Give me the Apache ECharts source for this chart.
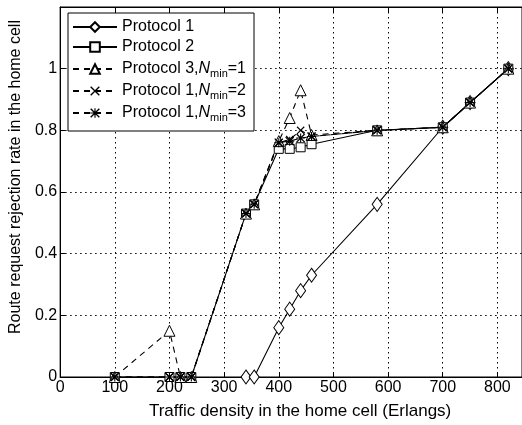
<!DOCTYPE html>
<html>
<head>
<meta charset="utf-8">
<script src="https://cdn.jsdelivr.net/npm/echarts@6/dist/echarts.min.js"></script>
<style>html,body{margin:0;padding:0;background:#fff;}#c{width:522px;height:425px;}</style>
</head>
<body>
<div id="c"></div>
<script>
// Data
const seriesNames = ['Protocol 1', 'Protocol 2', 'Protocol 3,N=1', 'Protocol 1,N=2', 'Protocol 1,N=3'];
const xP1 = [340, 355, 400, 420, 440, 460, 580, 700, 750, 820];
const yP1 = [0, 0, 0.16, 0.22, 0.28, 0.33, 0.56, 0.81, 0.89, 1.0];
const xAll = [100, 200, 220, 240, 340, 355, 400, 420, 440, 460, 580, 700, 750, 820];
const yP2 = [0, 0, 0, 0, 0.53, 0.56, 0.74, 0.74, 0.745, 0.755, 0.80, 0.81, 0.89, 1.0];
const yP3 = [0, 0.15, 0, 0, 0.53, 0.56, 0.765, 0.84, 0.93, 0.785, 0.80, 0.81, 0.89, 1.0];
const yN2 = [0, 0, 0, 0, 0.53, 0.56, 0.76, 0.77, 0.80, 0.78, 0.80, 0.81, 0.89, 1.0];
const yN3 = [0, 0, 0, 0, 0.53, 0.56, 0.76, 0.765, 0.775, 0.78, 0.80, 0.81, 0.89, 1.0];
const xTicks = [0, 100, 200, 300, 400, 500, 600, 700, 800];
const yTicks = [0, 0.2, 0.4, 0.6, 0.8, 1];

const pairs = (xs, ys) => xs.map((x, i) => [x, ys[i]]);
const FONT = 'Liberation Sans';
const crossPath = 'path://M0,1 L1,0 L10,9 L9,10 Z M9,0 L10,1 L1,10 L0,9 Z';
const starPath = 'path://M0,1 L1,0 L10,9 L9,10 Z M9,0 L10,1 L1,10 L0,9 Z M4.4,0 L5.6,0 L5.6,10 L4.4,10 Z M0,4.4 L10,4.4 L10,5.6 L0,5.6 Z';

const hollow = { color: '#fff', borderColor: '#000', borderWidth: 1 };
const filled = { color: '#000', borderWidth: 0 };

function mk(name, data, symbol, size, dashed, item) {
  return {
    name: name, type: 'line', data: data, symbol: symbol, symbolSize: size,
    showAllSymbol: true,
    lineStyle: { color: '#000', width: 1.1, type: dashed ? [6, 5] : 'solid' },
    itemStyle: item,
    emphasis: { disabled: true },
    animation: false, z: 3
  };
}

const chart = echarts.init(document.getElementById('c'), null, { renderer: 'canvas' });
chart.setOption({
  backgroundColor: '#fff',
  animation: false,
  textStyle: { fontFamily: FONT },
  grid: { left: 58, top: 7, right: 0, bottom: 48, show: true, borderColor: '#000', borderWidth: 1, backgroundColor: 'transparent' },
  legend: {
    orient: 'vertical', left: 68, top: 13,
    backgroundColor: '#fff', borderColor: '#000', borderWidth: 1,
    padding: [4, 8, 8, 4], itemGap: 0, itemWidth: 44, itemHeight: 12,
    data: seriesNames,
    formatter: function (n) {
      const m = n.match(/^(.*),N=(\d)$/);
      if (m) return m[1] + ',{n|N}{s|min}{t|=' + m[2] + '}';
      return n;
    },
    textStyle: {
      fontFamily: FONT, fontSize: 16, color: '#000', lineHeight: 20,
      rich: {
        n: { fontFamily: FONT, fontSize: 16, fontStyle: 'italic', color: '#000', lineHeight: 20 },
        s: { fontFamily: FONT, fontSize: 11, color: '#000', lineHeight: 10, padding: [11, 0, 0, 0], verticalAlign: 'bottom' },
        t: { fontFamily: FONT, fontSize: 16, color: '#000', lineHeight: 20 }
      }
    }
  },
  xAxis: [{
    type: 'value', min: 0, max: 845, interval: 100,
    name: 'Traffic density in the home cell (Erlangs)', nameLocation: 'middle', nameGap: 26,
    nameTextStyle: { fontFamily: FONT, fontSize: 17, color: '#000', padding: [0, 0, 0, 18] },
    axisLine: { show: true, lineStyle: { color: '#000' } },
    axisTick: { show: true, inside: true, length: 5, lineStyle: { color: '#000' } },
    axisLabel: { fontFamily: FONT, fontSize: 16, color: '#000', margin: 3, showMaxLabel: false,
      formatter: v => xTicks.indexOf(v) >= 0 ? String(v) : '' },
    splitLine: { show: true, lineStyle: { color: '#000', width: 1, type: [1.5, 3.5] } }
  }, {
    type: 'value', min: 0, max: 845, interval: 100, position: 'top',
    axisLine: { show: true, lineStyle: { color: '#000' } },
    axisTick: { show: true, inside: true, length: 5, lineStyle: { color: '#000' } },
    axisLabel: { show: false }, splitLine: { show: false }
  }],
  yAxis: {
    type: 'value', min: 0, max: 1.2, interval: 0.2,
    name: 'Route request rejection rate in the home cell', nameLocation: 'middle', nameGap: 36,
    nameTextStyle: { fontFamily: FONT, fontSize: 16, color: '#000', padding: [0, 0, 0, 30] },
    axisLine: { show: true, lineStyle: { color: '#000' } },
    axisTick: { show: true, inside: true, length: 5, lineStyle: { color: '#000' } },
    axisLabel: { fontFamily: FONT, fontSize: 16, color: '#000', margin: 3, showMaxLabel: false,
      formatter: v => { const t = yTicks.find(k => Math.abs(k - v) < 1e-6); return t === undefined ? '' : String(t); } },
    splitLine: { show: true, lineStyle: { color: '#000', width: 1, type: [1.5, 3.5] } }
  },
  series: [
    mk(seriesNames[0], pairs(xP1, yP1), 'diamond', [10, 14], false, hollow),
    mk(seriesNames[1], pairs(xAll, yP2), 'rect', 9, false, hollow),
    mk(seriesNames[2], pairs(xAll, yP3), 'triangle', 11, true, hollow),
    mk(seriesNames[3], pairs(xAll, yN2), crossPath, 8, true, filled),
    mk(seriesNames[4], pairs(xAll, yN3), starPath, 9, true, filled)
  ]
});
</script>
</body>
</html>
